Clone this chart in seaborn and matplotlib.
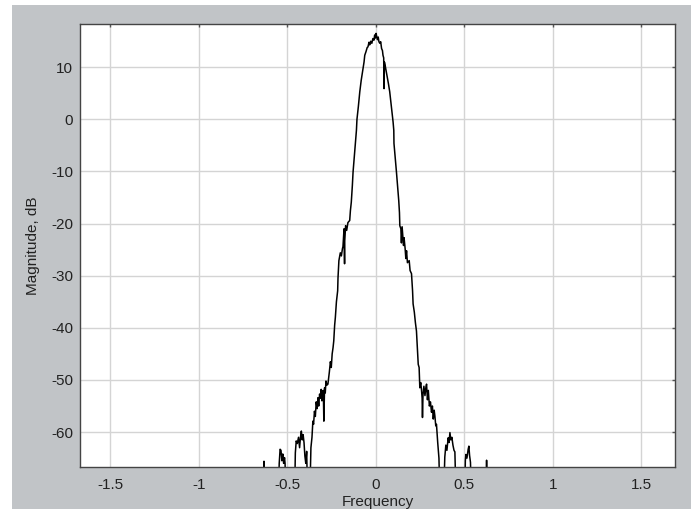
import matplotlib
matplotlib.use("Agg")
import matplotlib.pyplot as plt
from matplotlib.patches import Rectangle
import seaborn as sns
import pandas as pd

# Spectrum (frequency, magnitude in dB)
freq = [
    -0.660, -0.634, -0.631, -0.628, -0.550, -0.545, -0.540, -0.535, -0.530, -0.525,
    -0.520, -0.515, -0.512, -0.508, -0.458, -0.454, -0.449, -0.443, -0.436, -0.430,
    -0.425, -0.420, -0.415, -0.410, -0.405, -0.400, -0.395, -0.390, -0.385, -0.372,
    -0.366, -0.360, -0.355, -0.351, -0.346, -0.341, -0.336, -0.331, -0.326, -0.322,
    -0.317, -0.313, -0.308, -0.304, -0.300, -0.296, -0.293, -0.289, -0.285, -0.281,
    -0.276, -0.270, -0.262, -0.256, -0.251, -0.246, -0.241, -0.237, -0.232, -0.228,
    -0.222, -0.215, -0.213, -0.208, -0.200, -0.194, -0.188, -0.185, -0.179, -0.176,
    -0.175, -0.170, -0.164, -0.157, -0.147, -0.143, -0.138, -0.132, -0.128, -0.118,
    -0.109, -0.106, -0.098, -0.090, -0.082, -0.072, -0.066, -0.062, -0.055, -0.048,
    -0.044, -0.038, -0.034, -0.028, -0.022, -0.016, -0.010, -0.006, -0.002, 0.002,
    0.006, 0.010, 0.014, 0.018, 0.023, 0.028, 0.033, 0.038, 0.041, 0.045,
    0.047, 0.049, 0.054, 0.060, 0.066, 0.072, 0.079, 0.085, 0.092, 0.098,
    0.102, 0.103, 0.109, 0.117, 0.123, 0.130, 0.134, 0.136, 0.142, 0.145,
    0.149, 0.153, 0.157, 0.160, 0.166, 0.170, 0.174, 0.179, 0.189, 0.194,
    0.202, 0.208, 0.211, 0.218, 0.224, 0.230, 0.235, 0.240, 0.245, 0.249,
    0.254, 0.258, 0.262, 0.264, 0.267, 0.272, 0.278, 0.283, 0.287, 0.292,
    0.297, 0.303, 0.309, 0.315, 0.320, 0.325, 0.330, 0.334, 0.339, 0.343,
    0.350, 0.357, 0.362, 0.384, 0.390, 0.396, 0.402, 0.409, 0.414, 0.419,
    0.424, 0.430, 0.436, 0.442, 0.447, 0.453, 0.503, 0.506, 0.509, 0.515,
    0.522, 0.526, 0.530, 0.535, 0.540, 0.622, 0.626, 0.630, 0.660,
]
magnitude = [
    -72.0, -72.0, -65.6, -72.0, -72.0, -66.0, -63.3, -63.5, -65.5, -64.2,
    -66.0, -64.9, -66.0, -72.0, -72.0, -64.0, -61.7, -62.2, -61.0, -63.0,
    -61.0, -59.8, -61.5, -60.5, -62.0, -64.6, -66.0, -63.7, -72.0, -72.0,
    -63.0, -61.0, -57.9, -58.5, -56.0, -57.0, -54.2, -55.5, -53.4, -55.0,
    -52.7, -53.5, -51.8, -54.0, -52.1, -52.0, -57.9, -51.5, -52.5, -50.2,
    -51.0, -50.8, -48.5, -46.5, -47.6, -45.0, -43.8, -42.5, -39.5, -38.0,
    -35.0, -32.9, -30.4, -27.1, -25.6, -26.2, -24.8, -24.4, -21.0, -27.7,
    -23.3, -20.4, -21.3, -19.8, -19.4, -17.5, -15.9, -12.7, -10.1, -6.0,
    -2.1, 0.0, 2.5, 5.3, 7.5, 9.7, 11.0, 12.3, 13.0, 13.8,
    13.9, 14.8, 14.3, 15.0, 14.6, 15.5, 15.2, 16.2, 15.6, 16.5,
    15.8, 15.3, 15.8, 14.9, 14.6, 14.9, 13.6, 13.2, 12.3, 11.8,
    5.9, 11.0, 10.2, 9.1, 8.0, 6.8, 5.3, 3.5, 1.4, -0.5,
    -2.1, -4.6, -6.9, -10.1, -12.7, -15.6, -17.9, -20.4, -21.0, -23.7,
    -20.6, -22.5, -24.2, -22.7, -24.8, -26.7, -25.2, -27.5, -27.1, -29.0,
    -29.6, -32.9, -35.4, -37.0, -39.0, -40.6, -44.0, -47.0, -47.6, -51.5,
    -50.5, -51.7, -53.5, -57.2, -52.8, -51.2, -53.0, -51.5, -50.8, -53.8,
    -52.0, -55.0, -54.2, -56.2, -55.0, -57.5, -55.8, -56.9, -58.8, -58.5,
    -62.0, -65.0, -72.0, -72.0, -64.8, -62.5, -63.5, -61.1, -62.0, -60.1,
    -61.5, -61.0, -62.5, -63.5, -63.8, -72.0, -72.0, -65.5, -64.3, -65.0,
    -63.3, -62.7, -64.5, -65.8, -72.0, -72.0, -65.4, -72.0, -72.0,
]

x_ticks = [-1.5, -1, -0.5, 0, 0.5, 1, 1.5]
x_tick_labels = ["-1.5", "-1", "-0.5", "0", "0.5", "1", "1.5"]
y_ticks = [10, 0, -10, -20, -30, -40, -50, -60]
y_tick_labels = ["10", "0", "-10", "-20", "-30", "-40", "-50", "-60"]

df = pd.DataFrame({"Frequency": freq, "Magnitude": magnitude})

sns.set_theme(style="white")
plt.rcParams["font.family"] = ["Liberation Sans Narrow", "Liberation Sans", "DejaVu Sans"]

GRAY = "#c1c4c7"
TXT = "#222222"
FS = 11
fig = plt.figure(figsize=(6.91, 5.09), dpi=100, facecolor="white")
fig.patches.append(Rectangle((12 / 691, 0), 1, 1 - 5 / 509, transform=fig.transFigure,
                             facecolor=GRAY, edgecolor="none", zorder=-10))

ax = fig.add_axes([80 / 691, 42 / 509, 595 / 691, 443 / 509])
ax.set_facecolor("white")

sns.lineplot(data=df, x="Frequency", y="Magnitude", ax=ax, color="black",
             linewidth=1.1, sort=False, estimator=None)

ax.set_xlim(-1.67, 1.69)
ax.set_ylim(-66.7, 18.3)
ax.set_xticks(x_ticks)
ax.set_xticklabels(x_tick_labels)
ax.set_yticks(y_ticks)
ax.set_yticklabels(y_tick_labels)
ax.grid(True, color="#d4d4d4", linewidth=1.0)
ax.set_axisbelow(True)
ax.tick_params(axis="x", direction="in", length=2, width=1, color="#555555",
               labelsize=FS, labelcolor=TXT, top=True, bottom=False, pad=8)
ax.tick_params(axis="y", direction="in", length=2, width=1, color="#555555",
               labelsize=FS, labelcolor=TXT, left=False, right=True, pad=5)
for s in ax.spines.values():
    s.set_color("#444444")
    s.set_linewidth(1.0)

ax.set_xlabel("Frequency", fontsize=FS, color=TXT, labelpad=2)
ax.set_ylabel("Magnitude, dB", fontsize=FS, color=TXT, labelpad=8)

fig.savefig("out.png", dpi=100, facecolor=fig.get_facecolor())
